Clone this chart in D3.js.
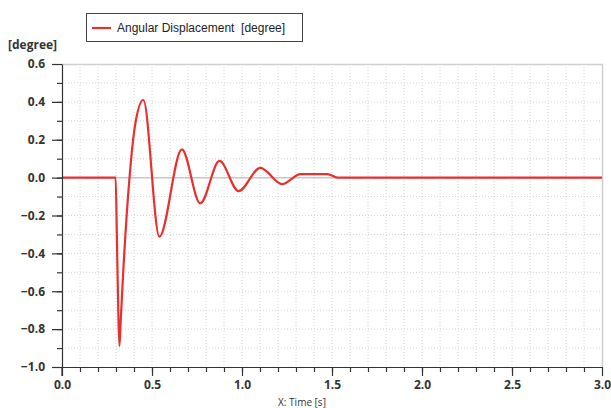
<!DOCTYPE html>
<html>
<head>
<meta charset="utf-8">
<script src="https://cdn.jsdelivr.net/npm/d3@7"></script>
<style>
  body { margin: 0; background: #fff; }
  svg { display: block; }
  .tick text { font-family: "Open Sans", sans-serif; font-weight: bold; font-size: 12px; fill: #333; }
</style>
</head>
<body>
<div id="chart"></div>
<script>
// datos (extremos de la oscilacion)
const time = [0, 0.298, 0.305, 0.313, 0.319, 0.326, 0.34, 0.375, 0.41, 0.452, 0.541, 0.666, 0.768, 0.875, 0.981, 1.102, 1.223, 1.325, 1.475, 1.53, 3.0];
const angle = [0, 0, -0.32, -0.72, -0.889, -0.76, -0.50, 0, 0.30, 0.41, -0.312, 0.149, -0.136, 0.088, -0.071, 0.052, -0.034, 0.019, 0.019, 0, 0];
const xMajor = [0, 0.5, 1.0, 1.5, 2.0, 2.5, 3.0];
const yMajor = [-1.0, -0.8, -0.6, -0.4, -0.2, 0.0, 0.2, 0.4, 0.6];
const seriesName = "Angular Displacement  [degree]";

const width = 611, height = 408;
const margin = { left: 62, right: 9, top: 64, bottom: 41 };

const svg = d3.select("#chart").append("svg")
    .attr("width", width)
    .attr("height", height);

const x = d3.scaleLinear().domain([0, 3]).range([margin.left, width - margin.right]);
const y = d3.scaleLinear().domain([-1, 0.6]).range([height - margin.bottom, margin.top]);

const xMinor = d3.range(1, 30).map(i => i / 10);
const yMinor = d3.range(-9, 6).map(i => i / 10);

// rejilla punteada
const grid = svg.append("g");
grid.selectAll("line.gx")
    .data(xMinor)
    .join("line")
    .attr("x1", d => x(d)).attr("x2", d => x(d))
    .attr("y1", y(0.6)).attr("y2", y(-1))
    .attr("stroke", "#d6d6d6")
    .attr("stroke-dasharray", "1,2");
grid.selectAll("line.gy")
    .data(yMinor.filter(d => Math.abs(d) > 1e-9))
    .join("line")
    .attr("x1", x(0)).attr("x2", x(3))
    .attr("y1", d => y(d)).attr("y2", d => y(d))
    .attr("stroke", "#d6d6d6")
    .attr("stroke-dasharray", "1,2");

// linea de cero y borde
svg.append("line")
    .attr("x1", x(0)).attr("x2", x(3))
    .attr("y1", y(0)).attr("y2", y(0))
    .attr("stroke", "#c8c8c8").attr("stroke-width", 1.5);
svg.append("path")
    .attr("d", `M${x(0)},${y(0.6) + 0.5}H${x(3) + 0.5}V${y(-1)}`)
    .attr("fill", "none")
    .attr("stroke", "#cfcfcf")
    .attr("stroke-width", 1.5);

// curva
const line = d3.line()
    .x((d, i) => x(time[i]))
    .y(d => y(d))
    .curve(d3.curveMonotoneX);

svg.append("path")
    .datum(angle)
    .attr("d", line)
    .attr("fill", "none")
    .attr("stroke", "#e8312f")
    .attr("stroke-width", 2.2)
    .attr("stroke-linejoin", "round");

// ejes
const xAxisMinor = svg.append("g")
    .attr("transform", `translate(0,${y(-1)})`)
    .call(d3.axisBottom(x).tickValues(xMinor).tickSize(5).tickFormat(""));
xAxisMinor.select(".domain").remove();

const xAxis = svg.append("g")
    .attr("transform", `translate(0,${y(-1)})`)
    .call(d3.axisBottom(x).tickValues(xMajor).tickSize(9).tickSizeOuter(0).tickPadding(4).tickFormat(d3.format(".1f")));

const yAxisMinor = svg.append("g")
    .attr("transform", `translate(${x(0)},0)`)
    .call(d3.axisLeft(y).tickValues(yMinor).tickSize(5).tickFormat(""));
yAxisMinor.select(".domain").remove();

const yAxis = svg.append("g")
    .attr("transform", `translate(${x(0)},0)`)
    .call(d3.axisLeft(y).tickValues(yMajor).tickSize(10).tickSizeOuter(0).tickPadding(7).tickFormat(d3.format(".1f")));

svg.selectAll(".domain, .tick line").attr("stroke", "#333").attr("stroke-width", 1.2);

// y extiende hasta abajo
svg.append("line")
    .attr("x1", x(0)).attr("x2", x(0))
    .attr("y1", y(-1)).attr("y2", y(-1) + 9)
    .attr("stroke", "#333").attr("stroke-width", 1.2);

// titulos de ejes
svg.append("text")
    .attr("x", 8).attr("y", 49)
    .attr("font-family", "Open Sans, sans-serif")
    .attr("font-weight", "bold")
    .attr("font-size", 12)
    .attr("fill", "#333")
    .text("[degree]");

svg.append("text")
    .attr("x", 302).attr("y", 406)
    .attr("text-anchor", "middle")
    .attr("font-family", "Open Sans, sans-serif")
    .attr("font-size", 10)
    .attr("fill", "#333")
    .text("X: Time [s]");

// leyenda
const legend = svg.append("g");
legend.append("rect")
    .attr("x", 86.5).attr("y", 13.5)
    .attr("width", 216).attr("height", 28)
    .attr("fill", "#fff")
    .attr("stroke", "#444");
legend.append("line")
    .attr("x1", 92).attr("x2", 111)
    .attr("y1", 28).attr("y2", 28)
    .attr("stroke", "#e8312f").attr("stroke-width", 2.2);
legend.append("text")
    .attr("x", 117).attr("y", 32)
    .attr("font-family", "Liberation Sans, Arial, sans-serif")
    .attr("font-size", 12)
    .attr("fill", "#222")
    .attr("xml:space", "preserve")
    .style("white-space", "pre")
    .text(seriesName);
</script>
</body>
</html>
